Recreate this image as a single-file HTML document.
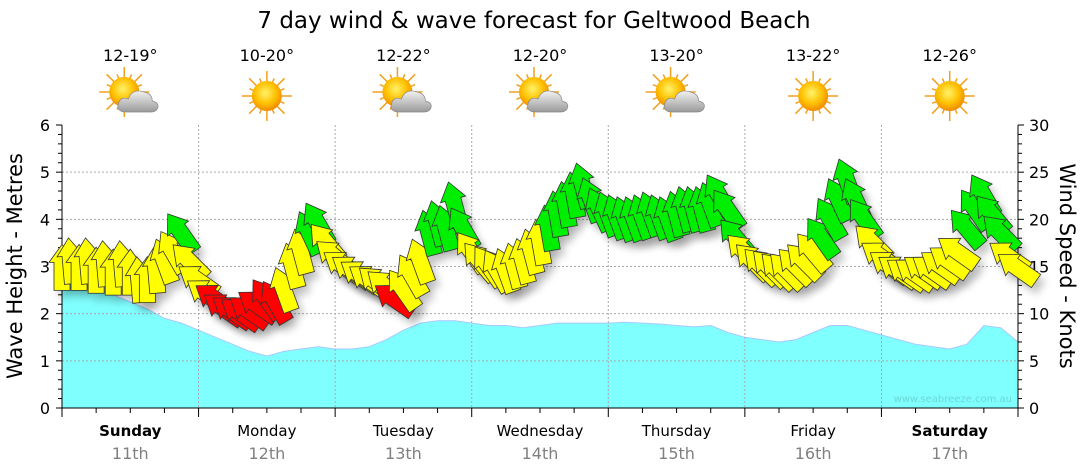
<!DOCTYPE html>
<html><head><meta charset="utf-8"><style>
body{margin:0;background:#fff;}
svg{display:block;font-family:"DejaVu Sans","Liberation Sans",sans-serif;}
</style></head><body>
<svg id="c" width="1080" height="475" viewBox="0 0 1080 475">
<defs>
<radialGradient id="sun" cx="0.45" cy="0.4" r="0.6"><stop offset="0" stop-color="#fff36a"/><stop offset="0.6" stop-color="#ffc000"/><stop offset="1" stop-color="#f08a00"/></radialGradient>
<linearGradient id="cloud" x1="0" y1="0" x2="0" y2="1"><stop offset="0" stop-color="#f2f2f2"/><stop offset="1" stop-color="#9a9a9a"/></linearGradient>
<filter id="sh" x="-50%" y="-50%" width="200%" height="200%"><feGaussianBlur stdDeviation="4"/></filter>
</defs>
<text x="534" y="28" font-size="23" text-anchor="middle" fill="#000">7 day wind &amp; wave forecast for Geltwood Beach</text>
<g id="g"></g>
</svg>
<script>
const days=["Sunday","Monday","Tuesday","Wednesday","Thursday","Friday","Saturday"];
const dates=["11th","12th","13th","14th","15th","16th","17th"];
const temps=["12-19°","10-20°","12-22°","12-20°","13-20°","13-22°","12-26°"];
const cloudy=[1,0,1,1,1,0,0];
const waveTicks=[0,1,2,3,4,5,6];
const windTicks=[0,5,10,15,20,25,30];
const waves=[2.7,2.65,2.55,2.4,2.25,2.1,1.9,1.8,1.65,1.5,1.35,1.2,1.1,1.2,1.25,1.3,1.25,1.25,1.3,1.45,1.65,1.8,1.85,1.85,1.8,1.75,1.75,1.7,1.75,1.8,1.8,1.8,1.8,1.82,1.8,1.78,1.75,1.72,1.75,1.6,1.5,1.45,1.4,1.45,1.6,1.75,1.75,1.65,1.55,1.45,1.35,1.3,1.25,1.35,1.75,1.7,1.4];
const wind=[
14.8,15.5,14.8,15.5,14.5,15.2,14.3,15.2,14.3,13.5,13.5,14.5,15.5,16.5,18.5,15.5,
13.5,12,11.5,10.5,10.2,10,10.2,10.8,11.5,11.2,12.5,15,16.5,18.5,19.5,17.5,
16,15,14.5,14,13.5,13.2,12.8,11.5,12.5,14,15.5,18.5,19.5,19,21.5,19,
16.5,15.5,15,14.5,14.5,15,15.5,16.5,17.5,19,20.5,21.5,22.5,23.5,22,21,
20.5,20.2,20,20,20.2,20.5,20.2,20,20.5,21,21,21,21.5,22.5,21,18,
16.5,15.5,15,14.8,14.5,14.5,15,15.5,16.5,18,20,22,24,22,20,17.5,
16,15,14.5,14.2,14.2,14.5,14.5,15,15.5,16.5,19,21,22.5,20.5,18.5,16,14.8];
const windDir=[
0,-5,0,-5,0,-5,0,-5,0,-5,0,-5,-20,-30,-35,-45,
-55,-55,-55,-55,-55,-55,-55,-55,-35,-30,-20,-15,-15,-25,-30,-40,
-50,-55,-55,-55,-55,-50,-50,-55,-35,-30,-20,-15,-15,-15,-15,-30,
-35,-40,-35,-30,-20,-15,-15,-15,-10,-10,-10,-10,-10,-15,-20,-25,
-20,-20,-20,-20,-20,-20,-20,-20,-15,-15,-15,-15,-20,-30,-35,-40,
-45,-45,-45,-45,-45,-45,-45,-45,-40,-35,-30,-25,-20,-25,-35,-45,
-55,-55,-55,-55,-55,-55,-55,-55,-55,-55,-40,-35,-30,-40,-45,-55,-55];
const NS="http://www.w3.org/2000/svg";
const g=document.getElementById('g');
const X0=62,X1=1018,YT=125,YB=408;
const xi=i=>X0+(X1-X0)*i/56;
const xw=i=>X0+(X1-X0)*i/(wind.length-1);
const yW=v=>YB-(YB-YT)*v/6;
const yK=v=>YB-(YB-YT)*v/30;
function el(t,a,p){const e=document.createElementNS(NS,t);for(const k in a)e.setAttribute(k,a[k]);(p||g).appendChild(e);return e;}
let d="M"+X0+","+YB;
waves.forEach((v,i)=>{d+=" L"+xi(i).toFixed(1)+","+yW(v).toFixed(1);});
d+=" L"+X1+","+YB+"Z";
const wa=el('path',{d:d,fill:'#80ffff',stroke:'#a8c8ff','stroke-width':1});


waveTicks.forEach(v=>{if(v>0&&v<6){const l=el('line',{x1:X0,x2:X1,y1:yW(v),y2:yW(v),stroke:'#aaa','stroke-dasharray':'2,2'});}});
for(let k=1;k<7;k++){const x=X0+(X1-X0)*k/7;const l=el('line',{x1:x,x2:x,y1:YT,y2:YB,stroke:'#aaa','stroke-dasharray':'2,2'});}
el('line',{x1:X0,x2:X0,y1:YT,y2:YB,stroke:'#000'});
el('line',{x1:X1,x2:X1,y1:YT,y2:YB,stroke:'#000'});
el('line',{x1:X0,x2:X1,y1:YB,y2:YB,stroke:'#000'});
for(let v=0;v<=30;v++){const y=YB-(YB-YT)*v/30;const maj=v%5==0;
 el('line',{x1:X0-(maj?6:4),x2:X0,y1:y,y2:y,stroke:'#000'});
 el('line',{x1:X1,x2:X1+(maj?6:4),y1:y,y2:y,stroke:'#000'});}
waveTicks.forEach(v=>{const t=el('text',{x:50,y:yW(v)+6,'font-size':16,'text-anchor':'end'});t.textContent=v;});
windTicks.forEach(v=>{const t=el('text',{x:1029,y:yK(v)+6,'font-size':16});t.textContent=v;});
let t=el('text',{x:0,y:0,'font-size':21,'text-anchor':'middle',transform:'translate(22,266) rotate(-90)'});t.textContent="Wave Height - Metres";

t=el('text',{x:0,y:0,'font-size':21,'text-anchor':'middle',transform:'translate(1060,266) rotate(90)'});t.textContent="Wind Speed - Knots";

for(let k=0;k<=28;k++){const x=X0+(X1-X0)*k/28;el('line',{x1:x,x2:x,y1:YB,y2:YB+(k%4==0?9:5),stroke:'#000'});}
days.forEach((n,k)=>{const cx=X0+(X1-X0)*(k+0.5)/7;
 const a=el('text',{x:cx,y:436,'font-size':15,'text-anchor':'middle','font-weight':(k==0||k==6)?'bold':'normal'});a.textContent=n;
 const b=el('text',{x:cx,y:459,'font-size':16,'text-anchor':'middle',fill:'#808080'});b.textContent=dates[k];
 const c=el('text',{x:cx,y:61,'font-size':16,'text-anchor':'middle'});c.textContent=temps[k];
 const ic=el('g',{transform:'translate('+cx+',96)'});
 const sx=cloudy[k]?-6:0,sy=cloudy[k]?-4:0;
 for(let r=0;r<16;r++){const an=r*Math.PI/8,L=r%2?19:25;el('line',{x1:sx+Math.cos(an)*10,y1:sy+Math.sin(an)*10,x2:sx+Math.cos(an)*L,y2:sy+Math.sin(an)*L,stroke:'#f0a020','stroke-width':1.5},ic);}
 el('circle',{cx:sx,cy:sy,r:15,fill:'url(#sun)'},ic);
 if(cloudy[k]){el('path',{d:'M-4,16 Q-14,16 -12,8 Q-10,0 -2,3 Q2,-8 14,-4 Q22,-2 22,5 Q30,7 27,13 Q25,16 20,16 Z',fill:'url(#cloud)',stroke:'#888','stroke-width':0.7},ic);}
});
t=el('text',{x:1012,y:402,'font-size':10,'text-anchor':'end',fill:'#6cd6d6'});t.textContent="www.seabreeze.com.au";
const ap="M0,-24 L13,-6 L8,-6 L8,22 L-8,22 L-8,-6 L-13,-6 Z";
const col=v=>v<12?'#ff0000':(v<18?'#ffff00':'#00ee00');
wind.forEach((v,i)=>{const x=xw(i),y=yK(v);
 el('path',{d:ap,fill:'#000',opacity:0.22,filter:'url(#sh)',transform:'translate('+(x+5)+','+(y+7)+') rotate('+windDir[i]+')'});});
wind.forEach((v,i)=>{const x=xw(i),y=yK(v);
 const a=el('path',{d:ap,fill:col(v),stroke:'#333','stroke-width':0.8,transform:'translate('+x+','+y+') rotate('+windDir[i]+')'});
 
 });
</script>
</body></html>
